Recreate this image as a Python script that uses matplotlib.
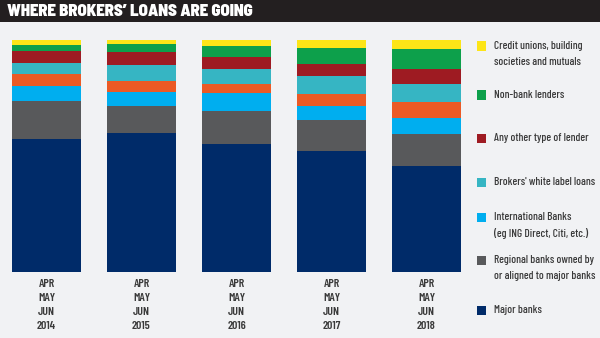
import matplotlib
matplotlib.use("Agg")
import matplotlib.pyplot as plt
from matplotlib.patches import Rectangle
import numpy as np

plt.rcParams['font.family'] = ['Barlow Condensed', 'DejaVu Sans']

periods = ["APR\nMAY\nJUN\n2014", "APR\nMAY\nJUN\n2015", "APR\nMAY\nJUN\n2016",
           "APR\nMAY\nJUN\n2017", "APR\nMAY\nJUN\n2018"]

# stacked from bottom to top (percent share)
major_banks   = [57.5, 60.0, 55.0, 52.2, 45.8]
regional      = [16.2, 11.4, 14.5, 13.5, 13.8]
international = [6.5, 6.2, 7.5, 6.0, 6.9]
other_orange  = [5.2, 4.9, 4.0, 5.0, 6.9]
white_label   = [4.6, 6.8, 6.5, 7.8, 7.6]
any_other     = [5.2, 5.6, 5.3, 5.3, 6.5]
non_bank      = [2.6, 3.4, 4.6, 6.9, 8.6]
credit_unions = [2.2, 1.7, 2.6, 3.3, 3.9]

series = [major_banks, regional, international, other_orange,
          white_label, any_other, non_bank, credit_unions]
colors = ["#002b69", "#58595b", "#00aeef", "#eb5a25",
          "#36b5c3", "#9e1b22", "#0da04b", "#fde517"]

legend_labels = ["Credit unions, building\nsocieties and mutuals",
                 "Non-bank lenders",
                 "Any other type of lender",
                 "Brokers' white label loans",
                 "International Banks\n(eg ING Direct, Citi, etc.)",
                 "Regional banks owned by\nor aligned to major banks",
                 "Major banks"]
legend_colors = ["#fde517", "#0da04b", "#9e1b22", "#36b5c3",
                 "#00aeef", "#58595b", "#002b69"]

W, H = 600, 338
bg = "#f1f2f4"
fig = plt.figure(figsize=(6, 3.38), dpi=100, facecolor=bg)

# title bar
fig.patches.append(Rectangle((0, 1 - 22 / H), 1, 22 / H, transform=fig.transFigure,
                             facecolor="#231f20", edgecolor="none", zorder=0))
fig.text(7 / W, 1 - 11.5 / H, "WHERE BROKERS\u2019 LOANS ARE GOING", color="white",
         fontsize=12, fontweight=900, va="center", ha="left",
         family=['Barlow Semi Condensed', 'DejaVu Sans'])

ax = fig.add_axes([0, (H - 272) / H, 470 / W, 232 / H])
ax.set_facecolor(bg)
x = np.arange(len(periods))
bottom = np.zeros(len(periods))
for vals, c in zip(series, colors):
    ax.bar(x, vals, bottom=bottom, width=69 / 95, color=c, edgecolor="none")
    bottom += np.array(vals)
ax.set_xlim(-46.5 / 95, (470 - 46.5) / 95)
ax.set_ylim(0, 100)
ax.set_yticks([])
ax.set_xticks(x)
ax.set_xticklabels(periods, fontsize=8.5, color="#3a3a3a", linespacing=1.5,
                   fontweight=600)
ax.tick_params(axis="x", length=0, pad=5)
for s in ax.spines.values():
    s.set_visible(False)

# legend
centers = [46, 95, 138, 182, 217, 260, 310]
for lab, c, yc in zip(legend_labels, legend_colors, centers):
    fig.patches.append(Rectangle((477 / W, 1 - (yc + 4.5) / H), 9 / W, 9 / H,
                                 transform=fig.transFigure, facecolor=c,
                                 edgecolor="none"))
    fig.text(494 / W, 1 - (yc - 5) / H, lab, fontsize=8.2, color="#3a3a3a",
             va="top", ha="left", linespacing=1.7, fontweight=500)

fig.savefig("out.png", dpi=100, facecolor=bg)
